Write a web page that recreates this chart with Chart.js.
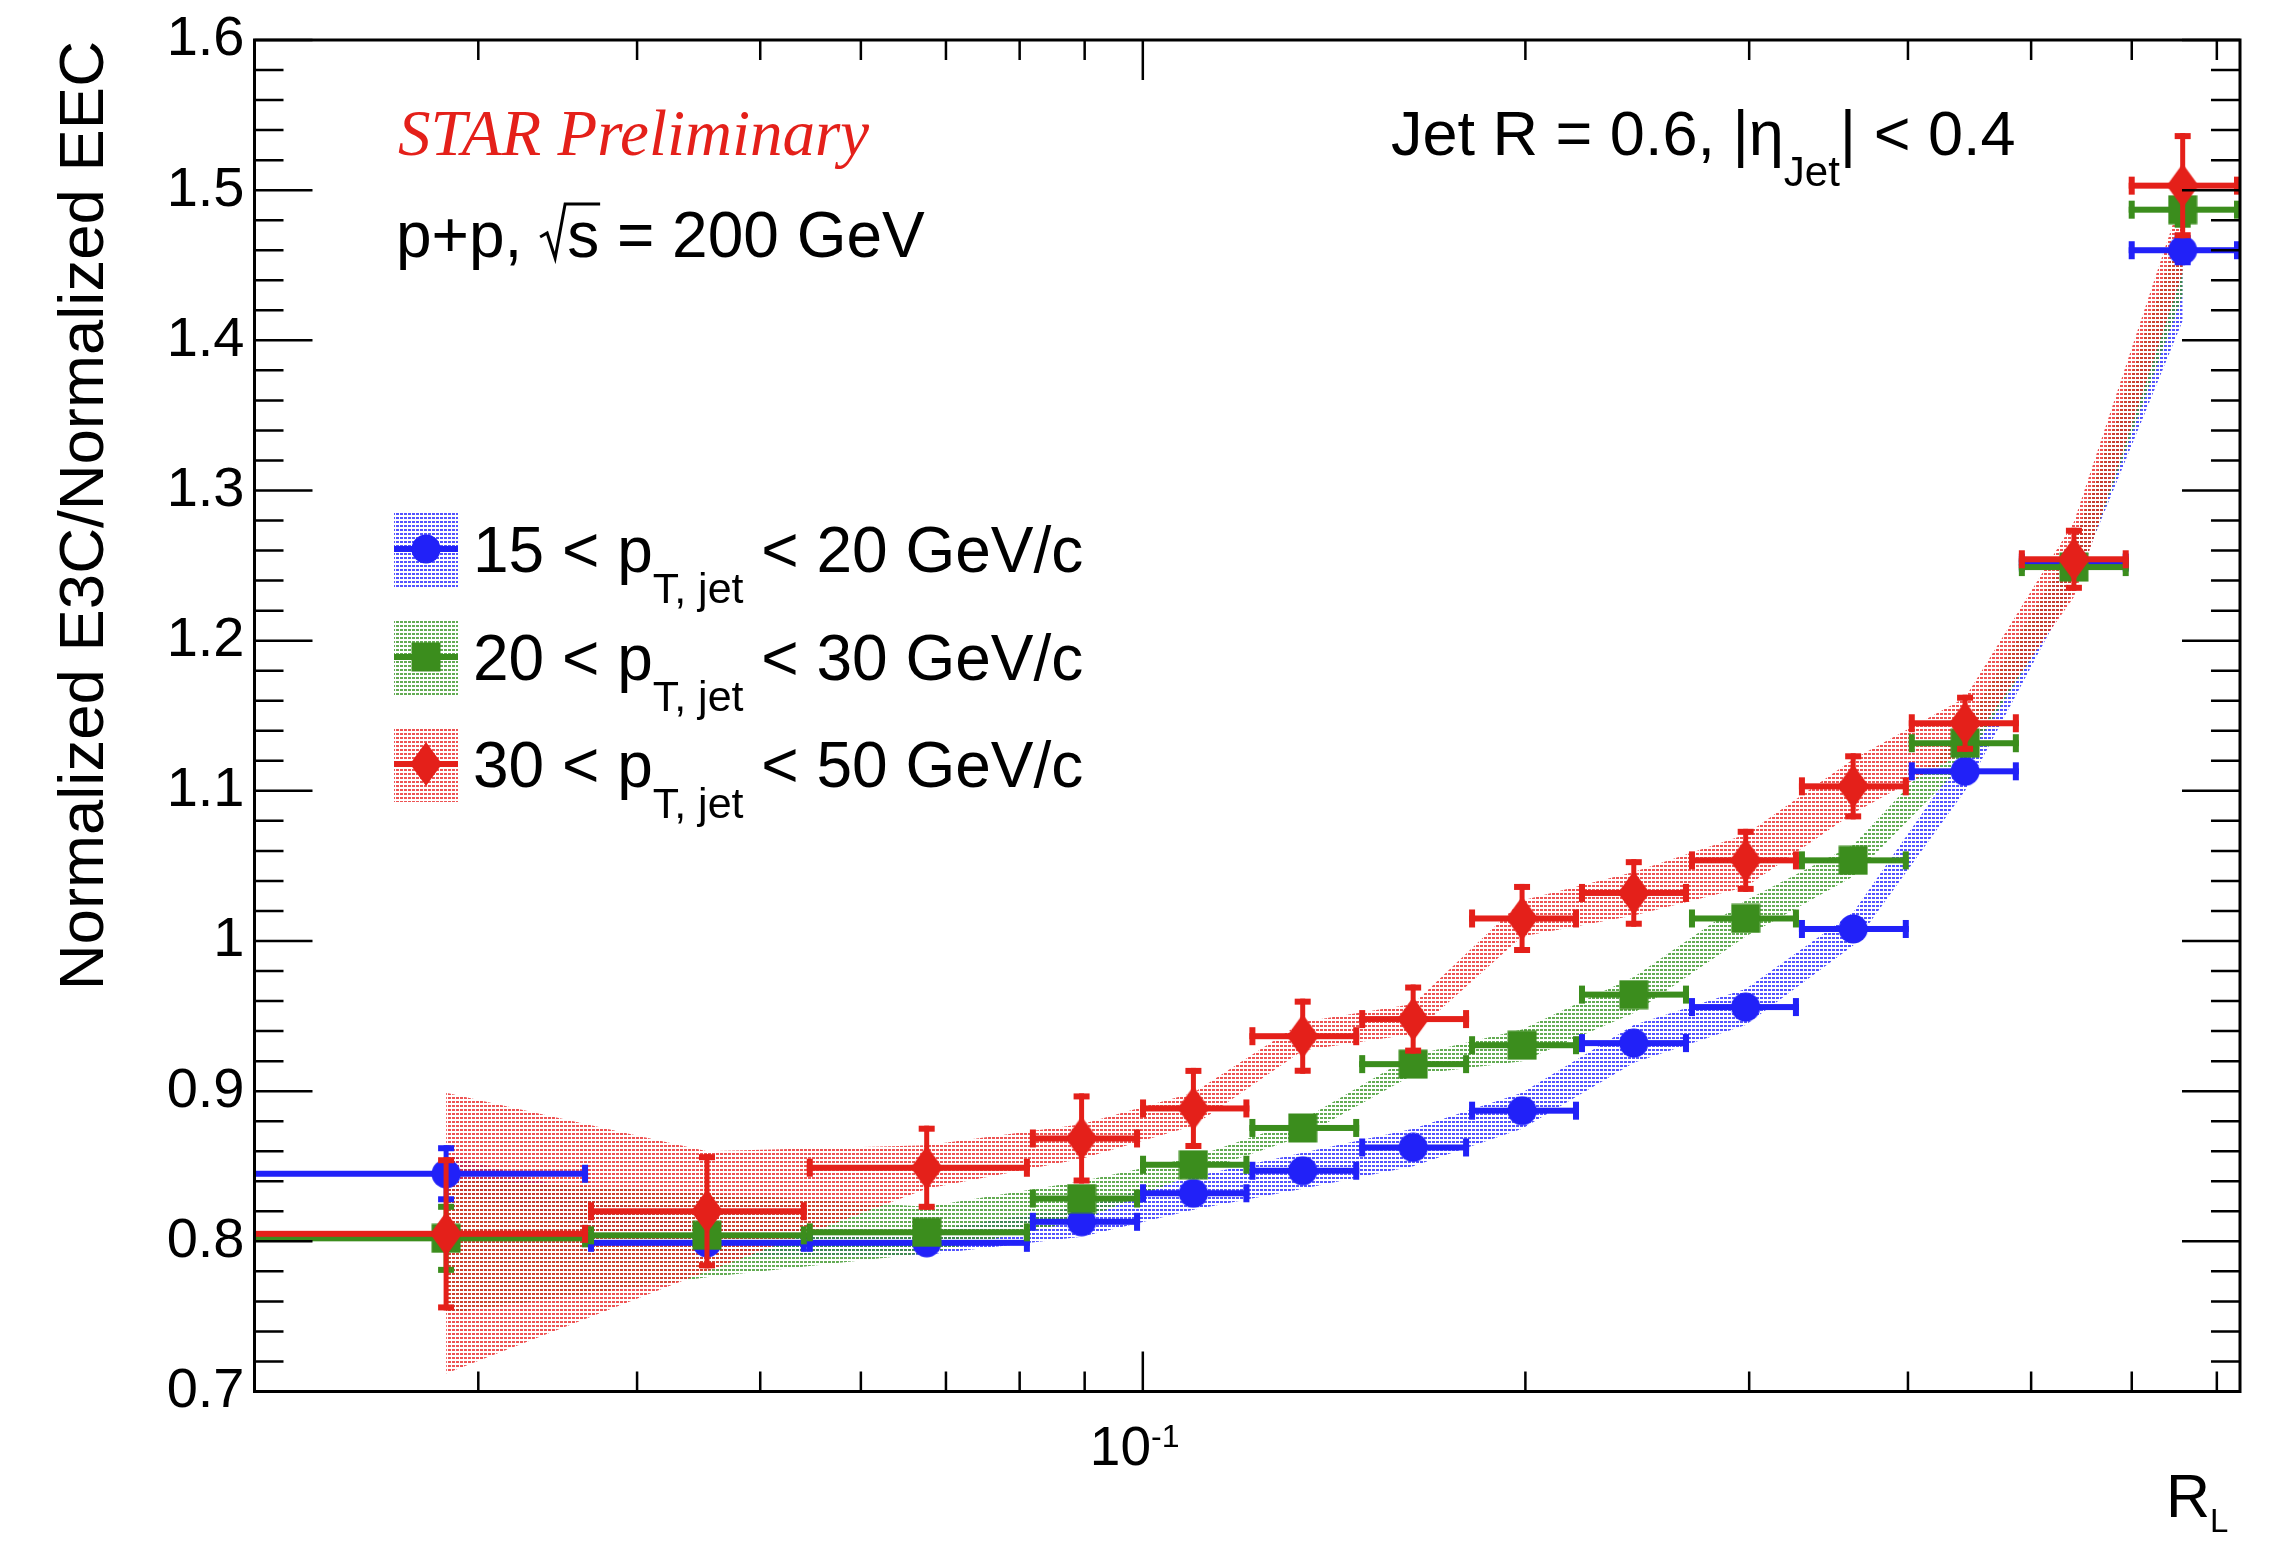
<!DOCTYPE html>
<html lang="en">
<head>
<meta charset="UTF-8">
<title>E3C / EEC ratio vs R_L</title>
<script src="https://cdn.jsdelivr.net/npm/chart.js"></script>
<style>
  html, body { margin: 0; padding: 0; background: #fff; overflow: hidden; }
  #wrap { position: relative; width: 2279px; height: 1541px; }
</style>
</head>
<body>
<div id="wrap"><canvas id="ratioChart"></canvas></div>
<script>
// R_L bin centres and bin edges
const rL     = [0.0283, 0.0454, 0.0676, 0.0895, 0.1096, 0.1336, 0.1632, 0.1988, 0.2434, 0.2981, 0.3622, 0.4436, 0.5403, 0.658];
const rLLow  = [0.012, 0.0366, 0.0544, 0.0815, 0.0995, 0.1213, 0.148, 0.1806, 0.2204, 0.269, 0.3283, 0.4006, 0.489, 0.5967];
const rLHigh = [0.0366, 0.0544, 0.0815, 0.0995, 0.1213, 0.148, 0.1806, 0.2204, 0.269, 0.3283, 0.4006, 0.489, 0.5967, 0.73];

// 15 < pT,jet < 20 GeV/c
const ratio15 = [0.845, 0.799, 0.799, 0.813, 0.832, 0.847, 0.8625, 0.887, 0.932, 0.956, 1.008, 1.113, 1.252, 1.460];
const stat15  = [0.019, 0.005, 0.004, 0.004, 0.004, 0.004, 0.004, 0.004, 0.004, 0.005, 0.005, 0.006, 0.008, 0.010];
const sysLo15 = [0.833, 0.790, 0.791, 0.803, 0.821, 0.835, 0.850, 0.875, 0.919, 0.944, 0.997, 1.100, 1.236, 1.413];
const sysHi15 = [0.858, 0.809, 0.807, 0.823, 0.843, 0.859, 0.875, 0.899, 0.944, 0.968, 1.019, 1.126, 1.265, 1.452];

// 20 < pT,jet < 30 GeV/c
const ratio20 = [0.802, 0.804, 0.806, 0.8285, 0.851, 0.8755, 0.918, 0.9306, 0.9643, 1.015, 1.0537, 1.1317, 1.249, 1.487];
const stat20  = [0.023, 0.008, 0.006, 0.005, 0.005, 0.005, 0.005, 0.005, 0.005, 0.005, 0.006, 0.006, 0.009, 0.012];
const sysLo20 = [0.752, 0.776, 0.792, 0.814, 0.845, 0.870, 0.911, 0.920, 0.952, 1.003, 1.043, 1.119, 1.233, 1.430];
const sysHi20 = [0.842, 0.832, 0.823, 0.840, 0.856, 0.881, 0.924, 0.941, 0.976, 1.027, 1.064, 1.143, 1.266, 1.478];

// 30 < pT,jet < 50 GeV/c
const ratio30 = [0.805, 0.820, 0.849, 0.8685, 0.8885, 0.9366, 0.948, 1.015, 1.032, 1.0537, 1.103, 1.145, 1.2542, 1.503];
const stat30  = [0.051, 0.038, 0.028, 0.030, 0.027, 0.025, 0.023, 0.023, 0.0225, 0.021, 0.022, 0.019, 0.021, 0.035];
const sysLo30 = [0.712, 0.780, 0.835, 0.855, 0.877, 0.927, 0.938, 1.003, 1.017, 1.036, 1.085, 1.126, 1.229, 1.445];
const sysHi30 = [0.899, 0.860, 0.864, 0.878, 0.899, 0.946, 0.958, 1.027, 1.046, 1.071, 1.121, 1.162, 1.279, 1.497];

const ptLow  = [15, 20, 30];
const ptHigh = [20, 30, 50];

// axis ticks
const xMajorTicks = [0.1];
const xMinorTicks = [0.03, 0.04, 0.05, 0.06, 0.07, 0.08, 0.09, 0.2, 0.3, 0.4, 0.5, 0.6, 0.7];
const yMin = 0.7, yMax = 1.6, yMinorStep = 0.02;

const SANS = '"Liberation Sans", Arial, Helvetica, sans-serif';
const SERIF = '"Liberation Serif", "Times New Roman", serif';

const colBlue = '#2121f8', colGreen = '#3b8d1d', colRed = '#e4201a';

const canvas = document.getElementById('ratioChart');
const mainCtx = canvas.getContext('2d');

// dotted fill like ROOT's pattern style
function dotPattern(rgba) {
  const tile = document.createElement('canvas');
  tile.width = 4; tile.height = 4;
  const g = tile.getContext('2d');
  g.fillStyle = rgba;
  g.fillRect(0, 1, 3, 2);
  return mainCtx.createPattern(tile, 'repeat');
}

function markerImage(kind, color) {
  const c = document.createElement('canvas');
  let w = 30, h = 30;
  if (kind === 'diamond') { w = 32; h = 44; }
  c.width = w; c.height = h;
  const g = c.getContext('2d');
  g.fillStyle = color;
  g.beginPath();
  if (kind === 'circle') g.arc(w / 2, h / 2, 14.5, 0, Math.PI * 2);
  else if (kind === 'square') g.rect(0.5, 0.5, 29, 29);
  else { g.moveTo(w / 2, 0); g.lineTo(w, h / 2); g.lineTo(w / 2, h); g.lineTo(0, h / 2); g.closePath(); }
  g.fill();
  return c;
}

const series = [
  { vals: ratio15, stat: stat15, lo: sysLo15, hi: sysHi15, color: colBlue,  fill: dotPattern('rgba(40,40,255,0.8)'),  marker: markerImage('circle', colBlue) },
  { vals: ratio20, stat: stat20, lo: sysLo20, hi: sysHi20, color: colGreen, fill: dotPattern('rgba(60,150,40,0.8)'),  marker: markerImage('square', colGreen) },
  { vals: ratio30, stat: stat30, lo: sysLo30, hi: sysHi30, color: colRed,   fill: dotPattern('rgba(232,40,40,0.8)'),  marker: markerImage('diamond', colRed) }
];

const toXY = arr => arr.map((v, i) => ({ x: rL[i], y: v }));

const datasets = [];
// systematic bands (drawn first)
series.forEach((s, k) => {
  datasets.push({
    data: toXY(s.hi), borderColor: 'rgba(0,0,0,0)', borderWidth: 0,
    pointRadius: 0, fill: false, tension: 0, order: 10 - k
  });
  datasets.push({
    data: toXY(s.lo), borderColor: 'rgba(0,0,0,0)', borderWidth: 0,
    pointRadius: 0, fill: '-1', backgroundColor: s.fill, tension: 0, order: 10 - k
  });
});
// points with statistical errors
series.forEach((s, k) => {
  datasets.push({
    data: toXY(s.vals), showLine: false, pointStyle: s.marker, pointRadius: 15,
    statErr: s.stat, errColor: s.color, order: 3 - k
  });
});

// error bars drawn just before each point set so markers stack like in ROOT
const errorBars = {
  id: 'errorBars',
  beforeDatasetDraw(chart, args) {
    const ds = chart.data.datasets[args.index];
    if (!ds.statErr) return;
    const { ctx, chartArea: a, scales: { x, y } } = chart;
    ctx.save();
    ctx.beginPath();
    ctx.rect(a.left, a.top, a.right - a.left, a.bottom - a.top);
    ctx.clip();
    ctx.fillStyle = ds.errColor;
    ds.data.forEach((p, i) => {
      const px = x.getPixelForValue(p.x), py = y.getPixelForValue(p.y);
      const xl = x.getPixelForValue(rLLow[i]), xr = x.getPixelForValue(rLHigh[i]);
      const yt = y.getPixelForValue(p.y + ds.statErr[i]);
      const yb = y.getPixelForValue(p.y - ds.statErr[i]);
      ctx.fillRect(xl, py - 3, xr - xl, 6);
      ctx.fillRect(xl, py - 9, 6, 18);
      ctx.fillRect(xr - 6, py - 9, 6, 18);
      ctx.fillRect(px - 2.5, yt, 5, yb - yt);
      ctx.fillRect(px - 8, yt, 16, 6);
      ctx.fillRect(px - 8, yb - 6, 16, 6);
    });
    ctx.restore();
  }
};

// draws text pieces one after another: [text, size, dy]
function richText(ctx, x, y, parts, family, style) {
  parts.forEach(([t, size, dy]) => {
    ctx.font = `${style || ''} ${size}px ${family}`;
    ctx.fillText(t, x, y + (dy || 0));
    x += ctx.measureText(t).width;
  });
  return x;
}

const frameAndText = {
  id: 'frameAndText',
  afterDraw(chart) {
    const { ctx, chartArea: a, scales: { x, y } } = chart;
    ctx.save();

    // ticks on all four sides, pointing inwards
    ctx.strokeStyle = '#000';
    ctx.lineWidth = 2.5;
    ctx.beginPath();
    const nY = Math.round((yMax - yMin) / yMinorStep);
    for (let k = 0; k <= nY; k++) {
      const py = y.getPixelForValue(yMin + k * yMinorStep);
      const len = k % 5 === 0 ? 58 : 29;
      ctx.moveTo(a.left, py); ctx.lineTo(a.left + len, py);
      ctx.moveTo(a.right, py); ctx.lineTo(a.right - len, py);
    }
    xMajorTicks.concat(xMinorTicks).forEach(v => {
      const px = x.getPixelForValue(v);
      const len = xMajorTicks.includes(v) ? 40 : 20;
      ctx.moveTo(px, a.bottom); ctx.lineTo(px, a.bottom - len);
      ctx.moveTo(px, a.top); ctx.lineTo(px, a.top + len);
    });
    ctx.stroke();
    ctx.lineWidth = 3;
    ctx.strokeRect(a.left, a.top, a.right - a.left, a.bottom - a.top);

    ctx.fillStyle = '#000';
    ctx.textBaseline = 'alphabetic';
    ctx.textAlign = 'left';

    // x tick label 10^-1
    const p01 = x.getPixelForValue(xMajorTicks[0]);
    richText(ctx, p01 - 53, 1465, [['10', 55], ['-1', 32, -18]], SANS);

    // x axis title
    richText(ctx, 2166, 1517, [['R', 61], ['L', 33, 15]], SANS);

    // y axis title
    ctx.save();
    ctx.translate(103, 41);
    ctx.rotate(-Math.PI / 2);
    ctx.textAlign = 'right';
    ctx.font = `63.5px ${SANS}`;
    ctx.fillText('Normalized E3C/Normalized EEC', 0, 0);
    ctx.restore();

    // labels inside the frame
    ctx.fillStyle = colRed;
    ctx.font = `italic 65px ${SERIF}`;
    ctx.fillText('STAR Preliminary', 398, 155);

    ctx.fillStyle = '#000';
    const base = 257;
    let cx = richText(ctx, 396, base, [['p+p, ', 64]], SANS);
    ctx.font = `64px ${SANS}`;
    const sW = ctx.measureText('s').width;
    ctx.lineWidth = 3;
    ctx.beginPath();
    ctx.moveTo(cx, base - 20);
    ctx.lineTo(cx + 7, base - 24);
    ctx.lineTo(cx + 15, base + 1);
    ctx.lineTo(cx + 25, base - 53);
    ctx.lineTo(cx + 28 + sW, base - 53);
    ctx.stroke();
    richText(ctx, cx + 27, base, [['s', 64], [' = 200 GeV', 64]], SANS);

    richText(ctx, 1391, 155, [['Jet R = 0.6, |\u03B7', 63], ['Jet', 42, 31], ['| < 0.4', 63]], SANS);

    // legend
    const rowsY = [549, 657, 764];
    series.forEach((s, k) => {
      const cy = rowsY[k];
      ctx.fillStyle = s.fill;
      ctx.fillRect(394, cy - 37, 64, 75);
      ctx.fillStyle = s.color;
      ctx.fillRect(394, cy - 3, 64, 6);
      ctx.drawImage(s.marker, 426 - s.marker.width / 2, cy - s.marker.height / 2);
      ctx.fillStyle = '#000';
      richText(ctx, 473, cy + 23, [[`${ptLow[k]} < p`, 64], ['T, jet', 43, 31], [` < ${ptHigh[k]} GeV/c`, 64]], SANS);
    });

    ctx.restore();
  }
};

new Chart(canvas, {
  type: 'line',
  data: { datasets },
  options: {
    responsive: true,
    maintainAspectRatio: false,
    devicePixelRatio: 1,
    animation: false,
    events: [],
    layout: { padding: { top: 40, right: 39, left: 0, bottom: 0 } },
    plugins: { legend: { display: false }, tooltip: { enabled: false } },
    scales: {
      x: {
        type: 'logarithmic', min: 0.02, max: 0.73,
        grid: { display: false, drawTicks: false },
        border: { display: false },
        ticks: { display: false },
        afterFit(scale) { scale.height = 149.5; }
      },
      y: {
        type: 'linear', min: yMin, max: yMax,
        grid: { display: false, drawTicks: false },
        border: { display: false },
        ticks: {
          stepSize: 0.1, padding: 10, color: '#000',
          font: { family: SANS, size: 56, lineHeight: 1 },
          callback: v => String(Math.round(v * 10) / 10)
        },
        afterFit(scale) { scale.width = 254.5; }
      }
    }
  },
  plugins: [errorBars, frameAndText]
});
</script>
</body>
</html>
